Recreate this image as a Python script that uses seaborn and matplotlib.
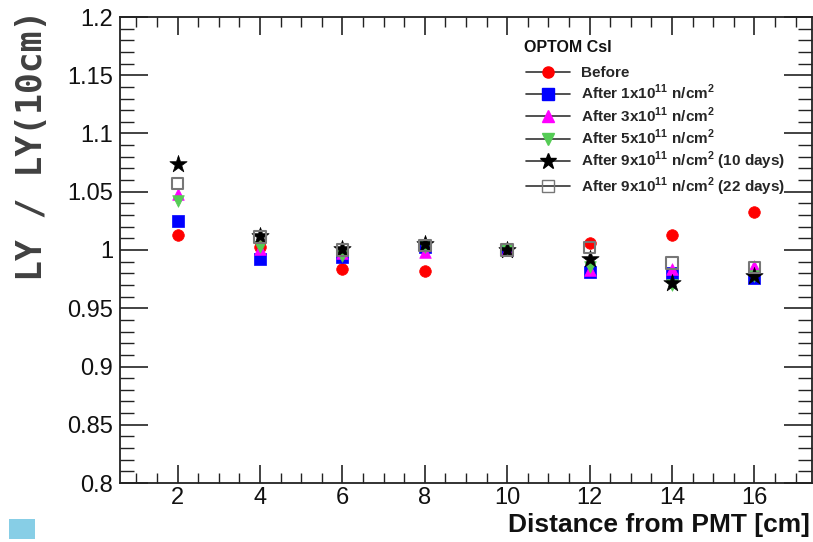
import matplotlib
matplotlib.use("Agg")
import matplotlib.pyplot as plt
from matplotlib.lines import Line2D
from matplotlib.patches import Rectangle
from matplotlib.ticker import MultipleLocator, FixedLocator, FuncFormatter
import seaborn as sns
import pandas as pd

sns.set_theme(style="ticks")
plt.rcParams['font.family'] = ['Liberation Sans', 'DejaVu Sans']
plt.rcParams['mathtext.fontset'] = 'custom'
plt.rcParams['mathtext.rm'] = 'Liberation Sans'
plt.rcParams['mathtext.bf'] = 'Liberation Sans:bold'

distance = [2, 4, 6, 8, 10, 12, 14, 16]
before      = [1.013, 1.003, 0.984, 0.982, 1.000, 1.006, 1.013, 1.033]
after_1e11  = [1.025, 0.992, 0.994, 1.003, 1.000, 0.981, 0.980, 0.976]
after_3e11  = [1.048, 1.001, 0.997, 0.998, 1.000, 0.983, 0.984, 0.986]
after_5e11  = [1.042, 1.003, 0.995, 1.003, 1.000, 0.985, 0.970, 0.978]
after_9e11_10d = [1.074, 1.012, 1.001, 1.005, 1.000, 0.992, 0.972, 0.978]
after_9e11_22d = [1.057, 1.011, 1.000, 1.004, 1.000, 1.002, 0.989, 0.985]

legend_title = "OPTOM CsI"
labels = ["Before",
          r"After 1x10$^{\mathbf{11}}$ n/cm$^{\mathbf{2}}$",
          r"After 3x10$^{\mathbf{11}}$ n/cm$^{\mathbf{2}}$",
          r"After 5x10$^{\mathbf{11}}$ n/cm$^{\mathbf{2}}$",
          r"After 9x10$^{\mathbf{11}}$ n/cm$^{\mathbf{2}}$ (10 days)",
          r"After 9x10$^{\mathbf{11}}$ n/cm$^{\mathbf{2}}$ (22 days)"]
series = [before, after_1e11, after_3e11, after_5e11, after_9e11_10d, after_9e11_22d]
colors = ["#FF0000", "#0000FF", "#FF00FF", "#55CC55", "#000000", "#777777"]
markers = ["o", "s", "^", "v", "*", "s"]
sizes = [70, 65, 70, 70, 170, 70]
filled = [True, True, True, True, True, False]

fig = plt.figure(figsize=(8.13, 5.42), dpi=100)
ax = fig.add_axes([120/813, 1-483/542, (812-120)/813, (483-17)/542])

for vals, col, mk, sz, fl in zip(series, colors, markers, sizes, filled):
    df = pd.DataFrame({"x": distance, "y": vals})
    if fl:
        sns.scatterplot(data=df, x="x", y="y", ax=ax, marker=mk, s=sz,
                        color=col, edgecolor=col, linewidth=0.5, zorder=3)
    else:
        sns.scatterplot(data=df, x="x", y="y", ax=ax, marker=mk, s=sz,
                        facecolors="none", edgecolor=col, linewidth=1.5, zorder=3)

ax.set_xlim(0.6, 17.4)
ax.set_ylim(0.8, 1.2)
ax.xaxis.set_major_locator(FixedLocator([2, 4, 6, 8, 10, 12, 14, 16]))
ax.xaxis.set_minor_locator(MultipleLocator(0.5))
ax.yaxis.set_major_locator(MultipleLocator(0.05))
ax.yaxis.set_minor_locator(MultipleLocator(0.01))

def yfmt(v, pos):
    return f"{v:.2f}".rstrip("0").rstrip(".")
ax.yaxis.set_major_formatter(FuncFormatter(yfmt))

ax.tick_params(axis="both", which="both", direction="in", top=True, right=True,
               colors="#222222", labelcolor="#111111", labelsize=17)
ax.tick_params(axis="x", which="major", length=13, width=1.2, pad=3)
ax.tick_params(axis="x", which="minor", length=7, width=1.0)
ax.tick_params(axis="y", which="major", length=20, width=1.2, pad=5)
ax.tick_params(axis="y", which="minor", length=10, width=1.0)
for sp in ax.spines.values():
    sp.set_linewidth(1.3)
    sp.set_color("#222222")
ax.set_xlabel("")
ax.set_ylabel("")

fig.text(810/813, 1-525/542, "Distance from PMT [cm]", ha="right", va="center",
         fontsize=19, fontweight="bold", color="#111111")
fig.text(32/813, 1-145/542, "LY / LY(10cm)", rotation=90, ha="center", va="center",
         fontsize=25, fontweight="bold", color="#404040", family="DejaVu Sans Mono")

handles = []
for col, mk, fl in zip(colors, markers, filled):
    ms = 12 if mk == "*" else 8
    if fl:
        h = Line2D([0], [0], color="#333333", lw=1.2, marker=mk, markersize=ms,
                   markerfacecolor=col, markeredgecolor=col)
    else:
        h = Line2D([0], [0], color="#333333", lw=1.2, marker=mk, markersize=ms,
                   markerfacecolor="none", markeredgecolor=col)
    handles.append(h)
leg = fig.legend(handles, labels, loc="upper left",
                 bbox_to_anchor=(526/813, 1-66/542), frameon=False,
                 prop={"weight": "bold", "size": 11},
                 handlelength=2.9, labelspacing=0.2, handletextpad=0.7,
                 borderaxespad=0, borderpad=0)
fig.text(524/813, 1-47/542, legend_title, ha="left", va="center",
         fontsize=11.5, fontweight="bold", color="#111111")

fig.patches.append(Rectangle((9/813, 1-539/542), 26/813, 20/542,
                             transform=fig.transFigure, facecolor="#87CEE6",
                             edgecolor="none"))

fig.savefig("out.png", dpi=100, facecolor="white")
